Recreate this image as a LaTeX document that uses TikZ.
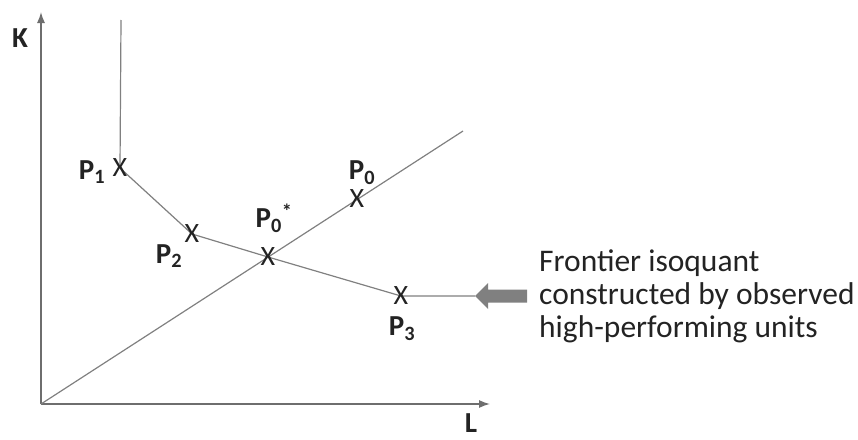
\documentclass[tikz,border=0pt]{standalone}
\usepackage{fontspec}
\setmainfont{Carlito}
\usetikzlibrary{arrows.meta}
\definecolor{lg}{RGB}{128,128,128}
\definecolor{ag}{RGB}{110,110,110}
\definecolor{tx}{RGB}{35,35,35}
\begin{document}
\begin{tikzpicture}[x=1pt,y=-1pt,
  axis/.style={draw=ag,line width=1.4pt,-{Latex[length=11pt,width=8pt]}},
  curve/.style={draw=lg,line width=1.2pt},
  xmark/.style={inner sep=0pt,text=tx,font=\fontsize{28}{28}\selectfont},
  plabel/.style={inner sep=0pt,text=tx,font=\fontsize{29}{29}\selectfont\bfseries},
  note/.style={inner sep=0pt,text=tx,align=left,anchor=west,font=\fontsize{31.5}{33}\selectfont}]
\useasboundingbox (0,0) rectangle (858,439);
% coordinates
\coordinate (o) at (41,404);
\coordinate (ktop) at (41,12);
\coordinate (lend) at (490,404);
\coordinate (rayend) at (463,131);
\coordinate (vtop) at (121,20);
\coordinate (p1) at (120,168);
\coordinate (p2) at (192,234);
\coordinate (ps) at (268,257);
\coordinate (p0) at (357,199);
\coordinate (p3) at (401,296);
\coordinate (tip) at (475,296);
% axes
\draw[axis] (o) -- (ktop);
\draw[axis] (o) -- (lend);
\node[plabel] (klab) at (20,38) {K};
\node[plabel] (llab) at (471,423) {L};
% ray
\draw[curve] (o) -- (rayend);
% isoquant
\draw[curve] (vtop) -- (p1) -- (p2) -- (ps) -- (p3) -- (tip);
% crosses
\node[xmark] (x1) at (p1) {X};
\node[xmark] (x2) at (p2) {X};
\node[xmark] (xs) at (ps) {X};
\node[xmark] (x0) at (p0) {X};
\node[xmark] (x3) at (p3) {X};
% labels
\node[plabel] (l1) at (92,172) {P\textsubscript{1}};
\node[plabel] (l2) at (169,256) {P\textsubscript{2}};
\node[plabel] (ls) at (274,218) {P\textsubscript{0}\textsuperscript{*}};
\node[plabel] (l0) at (362,173) {P\textsubscript{0}};
\node[plabel] (l3) at (402,329) {P\textsubscript{3}};
% block arrow
\fill[lg] (tip) -- (488,283) -- (488,289.5) -- (527,289.5) -- (527,302.5) -- (488,302.5) -- (488,309) -- cycle;
% note
\node[note] (txt) at (539,296) {Frontier isoquant\\constructed by observed\\high-performing units};
\end{tikzpicture}
\end{document}
